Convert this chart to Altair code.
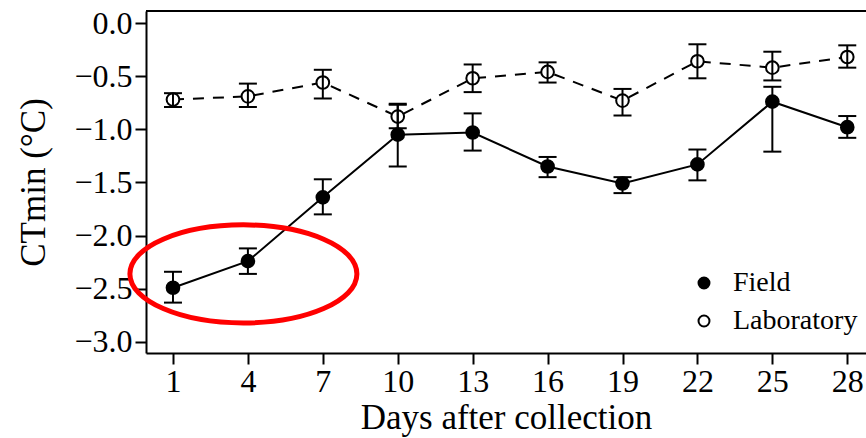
import altair as alt
import pandas as pd

# ---------------- data ----------------
days = [1, 4, 7, 10, 13, 16, 19, 22, 25, 28]

field_mean = [-2.49, -2.24, -1.64, -1.05, -1.03, -1.35, -1.51, -1.33, -0.74, -0.98]
field_lower = [-2.63, -2.36, -1.80, -1.35, -1.20, -1.45, -1.60, -1.48, -1.21, -1.08]
field_upper = [-2.34, -2.12, -1.47, -0.76, -0.85, -1.26, -1.45, -1.19, -0.60, -0.875]

lab_mean = [-0.72, -0.69, -0.56, -0.88, -0.52, -0.46, -0.73, -0.36, -0.42, -0.32]
lab_lower = [-0.79, -0.79, -0.71, -0.99, -0.65, -0.56, -0.87, -0.52, -0.54, -0.42]
lab_upper = [-0.66, -0.57, -0.44, -0.77, -0.39, -0.37, -0.62, -0.20, -0.27, -0.21]

series_names = ["Field", "Laboratory"]
y_ticks = [0.0, -0.5, -1.0, -1.5, -2.0, -2.5, -3.0]

# red ellipse annotation centre (in data units)
ann_day = [3.82]
ann_value = [-2.36]

rows = []
for name, m, lo, hi in [("Field", field_mean, field_lower, field_upper),
                        ("Laboratory", lab_mean, lab_lower, lab_upper)]:
    for d, a, b, c in zip(days, m, lo, hi):
        rows.append({"day": d, "series": name, "mean": a, "lower": b, "upper": c})
df = pd.DataFrame(rows)
ann = pd.DataFrame({"day": ann_day, "value": ann_value})

FONT = "Liberation Serif"
W, H = 720, 342

x_scale = alt.Scale(domain=[-0.08, 28.75], nice=False, zero=False)
y_scale = alt.Scale(domain=[-3.104, 0.113], nice=False, zero=False)

x_axis = alt.Axis(values=days, format="d", title="Days after collection",
                  labelFontSize=32, titleFontSize=35, tickSize=11, tickWidth=2,
                  domainWidth=2, labelPadding=2, titlePadding=3,
                  labelFlush=False, labelOverlap=False)
y_axis = alt.Axis(values=y_ticks, format=".1f", title="CTmin (°C)",
                  labelFontSize=32, titleFontSize=35, tickSize=11, tickWidth=2,
                  domainWidth=2, labelPadding=3, titlePadding=22,
                  labelFlush=False, labelOverlap=False)


def X():
    return alt.X("day:Q", scale=x_scale, axis=x_axis)


def Y(field):
    return alt.Y(f"{field}:Q", scale=y_scale, axis=y_axis)


base = alt.Chart(df)

line_field = base.transform_filter(alt.datum.series == "Field").mark_line(
    color="black", strokeWidth=2).encode(x=X(), y=Y("mean"))
line_lab = base.transform_filter(alt.datum.series == "Laboratory").mark_line(
    color="black", strokeWidth=2, strokeDash=[11, 9]).encode(x=X(), y=Y("mean"))

points = base.mark_point(filled=True, shape="circle", size=160, stroke="black",
                         strokeWidth=2, opacity=1).encode(
    x=X(), y=Y("mean"),
    fill=alt.Fill("series:N",
                  scale=alt.Scale(domain=series_names, range=["black", "white"]),
                  legend=alt.Legend(orient="none", legendX=544, legendY=258, title=None,
                                    labelFont=FONT, labelFontSize=28, labelColor="black",
                                    symbolType="circle", symbolSize=120,
                                    symbolStrokeColor="black", symbolStrokeWidth=2,
                                    labelOffset=15, rowPadding=10, padding=0)),
)

bars = base.mark_rule(color="black", strokeWidth=2).encode(
    x=X(), y=Y("lower"), y2="upper:Q",
)
caps_lo = base.mark_tick(orient="horizontal", size=18, thickness=2, color="black",
                         opacity=1).encode(x=X(), y=Y("lower"))
caps_hi = base.mark_tick(orient="horizontal", size=18, thickness=2, color="black",
                         opacity=1).encode(x=X(), y=Y("upper"))

top_border = alt.Chart(ann).mark_rule(color="black", strokeWidth=2).encode(
    x=alt.value(0), x2=alt.value(W), y=alt.value(0)
)

ELLIPSE = "M -1 0 A 1 0.432 0 1 1 1 0 A 1 0.432 0 1 1 -1 0 Z"
ellipse = alt.Chart(ann).mark_point(shape=ELLIPSE, size=227 * 227, filled=False,
                                     stroke="#ff0000", strokeWidth=5, opacity=1).encode(
    x=alt.X("day:Q", scale=x_scale, axis=x_axis),
    y=alt.Y("value:Q", scale=y_scale, axis=y_axis),
)

chart = alt.layer(line_field, line_lab, points, bars, caps_lo, caps_hi, top_border,
                  ellipse).properties(
    width=W, height=H,
    padding={"left": 146, "top": 11, "right": 0, "bottom": 85},
    autosize=alt.AutoSizeParams(type="none"),
    background="white",
).configure_view(stroke=None).configure_axis(
    labelFont=FONT, titleFont=FONT, labelColor="black", titleColor="black",
    domainColor="black", tickColor="black", grid=False, titleFontWeight="normal",
)

chart.save("out.html", embed_options={"renderer": "svg", "actions": False})
